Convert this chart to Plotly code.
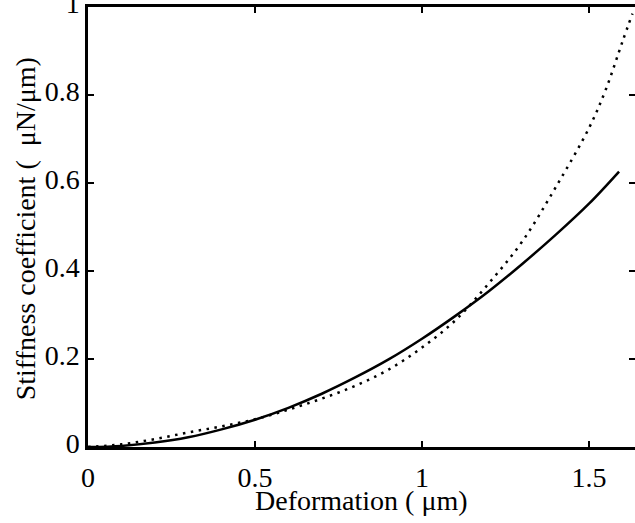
import plotly.graph_objects as go

# Solid curve: stiffness vs deformation
solid_x = [0, 0.1, 0.2, 0.3, 0.4, 0.5, 0.6, 0.7, 0.8, 0.9, 1.0, 1.1, 1.2, 1.3, 1.4, 1.5, 1.59]
solid_y = [0, 0.0025, 0.010, 0.022, 0.040, 0.062, 0.089, 0.121, 0.158, 0.199, 0.246, 0.298,
           0.354, 0.416, 0.482, 0.553, 0.626]

# Dotted curve
dot_x = [0, 0.1, 0.2, 0.3, 0.4, 0.5, 0.6, 0.7, 0.8, 0.9, 1.0, 1.1, 1.2, 1.3, 1.4, 1.5, 1.55, 1.6, 1.63]
dot_y = [0, 0.006, 0.018, 0.033, 0.047, 0.063, 0.085, 0.110, 0.139, 0.176, 0.226, 0.288,
         0.372, 0.467, 0.590, 0.725, 0.812, 0.921, 0.985]

x_ticks = [0, 0.5, 1, 1.5]
y_ticks = [0, 0.2, 0.4, 0.6, 0.8, 1]

FONT = "Liberation Serif, Times New Roman, serif"

fig = go.Figure()
fig.add_trace(go.Scatter(x=solid_x, y=solid_y, mode="lines",
                         line=dict(color="black", width=2.5, shape="spline"),
                         showlegend=False))
fig.add_trace(go.Scatter(x=dot_x, y=dot_y, mode="lines", yaxis="y2",
                         line=dict(color="black", width=2.5, dash="2.5px,5.5px", shape="spline"),
                         showlegend=False))

axis_common = dict(ticks="inside", ticklen=6, tickwidth=2, tickcolor="black",
                   showgrid=False, zeroline=False, ticklabeloverflow="allow",
                   automargin=False,
                   tickfont=dict(family=FONT, size=28, color="black"))

fig.update_layout(
    width=635, height=523,
    margin=dict(l=88, r=0, t=7, b=76, autoexpand=False),
    paper_bgcolor="white", plot_bgcolor="white",
    xaxis=dict(range=[0, 1.6377], tickvals=x_ticks, showline=True, linecolor="black",
               linewidth=2.5, mirror="ticks", ticklabelstandoff=4, **axis_common),
    yaxis=dict(range=[0, 1], tickvals=y_ticks, showline=True, linecolor="black",
               linewidth=2.5, mirror=False, ticklabelshift=-4, **axis_common),
    yaxis2=dict(range=[0, 1], tickvals=y_ticks, overlaying="y", side="right",
                showline=False, showticklabels=False, **axis_common),
    annotations=[
        dict(text="Deformation ( μm)", xref="paper", yref="paper", x=0.5, y=-0.121,
             xanchor="center", yanchor="middle", showarrow=False,
             font=dict(family=FONT, size=28, color="black")),
        dict(text="Stiffness coefficient (  μN/μm)", xref="paper", yref="paper",
             x=-0.115, y=0.495, xanchor="center", yanchor="middle", textangle=-90,
             showarrow=False, font=dict(family=FONT, size=28, color="black")),
    ],
)

fig.write_html("out.html")
